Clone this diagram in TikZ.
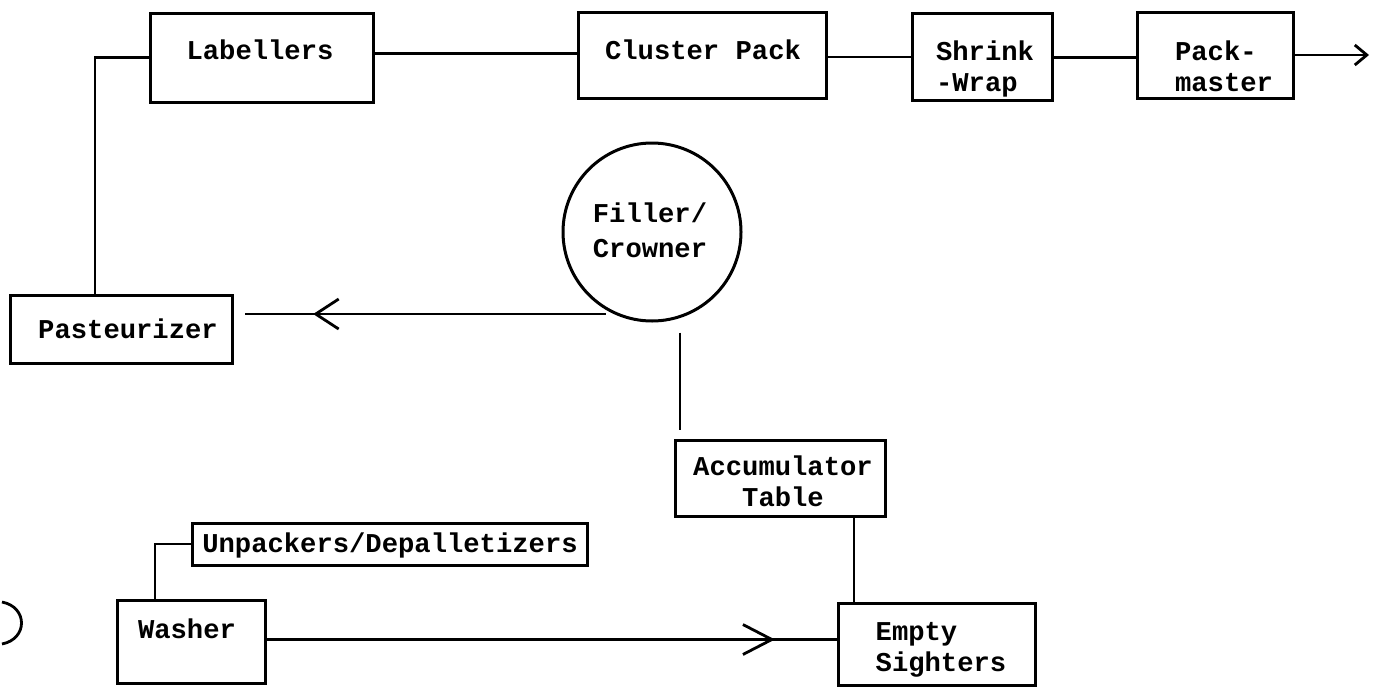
\documentclass[tikz,border=0pt]{standalone}
\usepackage{fontspec}
\setmonofont{Liberation Mono}
\usetikzlibrary{arrows.meta,decorations.markings,calc}
\tikzset{
  box/.style={draw, rectangle, line width=1.5pt, inner sep=0pt},
  stage/.style={draw, circle, line width=1.5pt, inner sep=0pt, minimum size=89pt},
  lbl/.style={font={\ttfamily\bfseries\fontsize{13.6}{15.5}\selectfont}, inner sep=0pt},
  conn/.style={line width=1.4pt},
  barb/.style={-{Straight Barb[length=6pt,width=10pt]}},
  midbarb/.style 2 args={postaction={decorate},
    decoration={markings, mark=at position #1 with
      {\arrow{Straight Barb[length=#2,width=15pt]}}}}
}
\begin{document}
\begin{tikzpicture}[x=0.5pt,y=-0.5pt]
\fill[white] (0,0) rectangle (1376,686);
\useasboundingbox (0,0) rectangle (1376,686);

% top line: labelling and packing
\node[box, minimum width=111.5pt, minimum height=44.5pt] (lab) at (261.5,57.5) {};
\node[lbl] (labt) at (260,50) {Labellers};
\node[box, minimum width=124pt, minimum height=43pt] (clu) at (702,55) {};
\node[lbl] (clut) at (703,50) {Cluster Pack};
\node[box, minimum width=70pt, minimum height=43.5pt] (shr) at (982,56.5) {};
\node[lbl, align=left] (shrt) at (985,68.5) {Shrink\\-Wrap};
\node[box, minimum width=78pt, minimum height=43pt] (pkm) at (1215,55) {};
\node[lbl, align=left] (pkmt) at (1224,66) {Pack-\\master};
\coordinate (out) at (1369,55);

% filling and pasteurizing
\node[stage] (fc) at (652,232) {};
\node[lbl, align=left, font={\ttfamily\bfseries\fontsize{13.6}{17.5}\selectfont}] (fct) at (650,230) {Filler/\\Crowner};
\node[box, minimum width=111pt, minimum height=34pt] (pas) at (121,329) {};
\node[lbl] (past) at (128,329) {Pasteurizer};

% bottle supply
\node[box, minimum width=105pt, minimum height=38pt] (acc) at (780,478) {};
\node[lbl, align=center] (acct) at (783,481.5) {Accumulator\\Table};
\node[box, minimum width=197.5pt, minimum height=21pt] (unp) at (389.5,544) {};
\node[lbl] (unpt) at (390,545) {Unpackers/Depalletizers};
\node[box, minimum width=74pt, minimum height=41.5pt] (was) at (191,641.5) {};
\node[lbl] (wast) at (187,629) {Washer};
\node[box, minimum width=98.5pt, minimum height=41pt] (emp) at (936.5,644) {};
\node[lbl, align=left] (empt) at (941,650) {Empty\\Sighters};

% connectors
\draw[conn] (lab.west) -| ([xshift=-13pt]pas.north);
\draw[conn] ([yshift=2pt]lab.east) -- ([yshift=2pt]lab.east -| clu.west);
\draw[conn] ([yshift=-1pt]clu.east) -- ([yshift=-1pt]clu.east -| shr.west);
\draw[conn] ([yshift=-0.5pt]shr.east) -- ([yshift=-0.5pt]shr.east -| pkm.west);
\draw[conn, barb] (pkm.east) -- (pkm.east -| out);

\draw[conn, midbarb={0.81}{11.5pt}] ($(fc.245)+(-8,0)$) -- ($(fc.245 -| pas.east)+(11,0)$);
\draw[conn, shorten >=4.5pt] ([xshift=14pt,yshift=-5pt]fc.south) -- ([xshift=14pt]fc.south |- acc.north);
\draw[conn] ([xshift=37pt]acc.south) -- ([xshift=37pt]acc.south |- emp.north);
\draw[conn] (unp.west) -| ([xshift=-18pt]was.north);
\draw[conn, midbarb={0.892}{14.5pt}] ([yshift=1pt]was.east) -- ([yshift=1pt]was.east -| emp.west);

% cut-off outline at the left edge
\draw[conn] (2,602) .. controls (28,607) and (28,639) .. (2,644);
\end{tikzpicture}
\end{document}
